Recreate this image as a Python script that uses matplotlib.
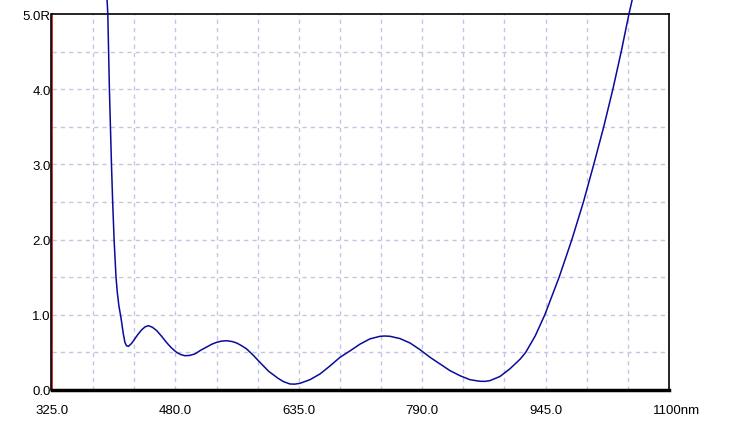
import matplotlib
matplotlib.use("Agg")
import matplotlib.pyplot as plt
import matplotlib.transforms as mtransforms

# wavelength (nm) and reflectance
wavelength = [394.1, 395.1, 396.1, 397.1, 398.4, 399.7, 401.2, 403.0, 405.4, 407.0,
              409.0, 411.0, 412.5, 414.5, 416.7, 418.5, 420.9, 425, 429, 433,
              437.6, 442, 446, 451, 456.5, 463, 469, 475, 481.6, 487,
              492, 498, 504.6, 512, 519, 526, 532, 538, 544.4, 551,
              557, 563, 569.6, 578, 586, 597, 609, 616, 624, 630,
              636.5, 649, 661.6, 674.2, 686.8, 699.3, 711.9, 724.4, 737, 743,
              749.6, 762, 774.7, 787.3, 799.8, 812.4, 825, 837.5, 850, 862.6,
              869, 875, 887.7, 900, 913, 920, 932, 944, 962, 978,
              992.5, 1005.5, 1018, 1029.5, 1040, 1049.7, 1054]
reflectance = [5.2, 5.0, 4.5, 4.0, 3.5, 3.0, 2.5, 2.0, 1.5, 1.3,
               1.12, 1.0, 0.9, 0.75, 0.63, 0.59, 0.58, 0.62, 0.68, 0.74,
               0.80, 0.84, 0.855, 0.835, 0.79, 0.71, 0.63, 0.56, 0.50, 0.47,
               0.456, 0.46, 0.48, 0.53, 0.57, 0.61, 0.635, 0.65, 0.655, 0.645,
               0.625, 0.59, 0.545, 0.46, 0.37, 0.25, 0.155, 0.11, 0.08, 0.078,
               0.089, 0.137, 0.213, 0.32, 0.435, 0.52, 0.61, 0.68, 0.714, 0.718,
               0.714, 0.684, 0.625, 0.536, 0.435, 0.346, 0.257, 0.19, 0.137, 0.116,
               0.115, 0.124, 0.18, 0.28, 0.41, 0.5, 0.72, 1.0, 1.5, 2.0,
               2.5, 3.0, 3.5, 4.0, 4.5, 5.0, 5.2]

x_ticks = [325, 480, 635, 790, 945, 1100]
x_tick_labels = ["325.0", "480.0", "635.0", "790.0", "945.0", "1100nm"]
y_ticks = [0, 1, 2, 3, 4, 5]
y_tick_labels = ["0.0", "1.0", "2.0", "3.0", "4.0", "5.0R"]

plt.rcParams['font.family'] = ['Liberation Sans', 'DejaVu Sans']

fig = plt.figure(figsize=(7.29, 4.27), dpi=100)
ax = fig.add_axes([52/729, 36/427, 617/729, 376/427])
ax.set_xlim(325, 1100)
ax.set_ylim(0, 5)

grid_color = "#c4c4e4"
x_step = (1100 - 325) / 15
for i in range(1, 15):
    ax.axvline(325 + i * x_step, color=grid_color, lw=1, ls=(0, (3, 3)), zorder=0)
for i in range(1, 10):
    ax.axhline(i * 0.5, color=grid_color, lw=1, ls=(0, (3, 3)), zorder=0)

ax.plot(wavelength, reflectance, color="#0a0a9c", lw=1.1, clip_on=False, zorder=3)

ax.set_xticks(x_ticks)
ax.set_xticklabels(x_tick_labels, fontsize=9.5)
ax.set_yticks(y_ticks)
ax.set_yticklabels(y_tick_labels, fontsize=9.5)
ax.tick_params(axis='both', length=0)
ax.tick_params(axis='x', pad=10)
ax.tick_params(axis='y', pad=1)

last = ax.get_xticklabels()[-1]
last.set_horizontalalignment('left')
last.set_transform(last.get_transform() + mtransforms.ScaledTranslation(-16/100, 0, fig.dpi_scale_trans))

for s in ['top', 'right']:
    ax.spines[s].set_color('black')
    ax.spines[s].set_linewidth(1.2)
ax.spines['bottom'].set_color('black')
ax.spines['bottom'].set_linewidth(2.5)
ax.spines['left'].set_color('#d01010')
ax.spines['left'].set_linewidth(1.2)
# black line just left of the red axis
ax.plot([0, 0], [0, 1], transform=ax.transAxes + mtransforms.ScaledTranslation(-1.3/100, 0, fig.dpi_scale_trans),
        color='black', lw=1.2, clip_on=False, zorder=4)

fig.savefig("out.png", dpi=100)
